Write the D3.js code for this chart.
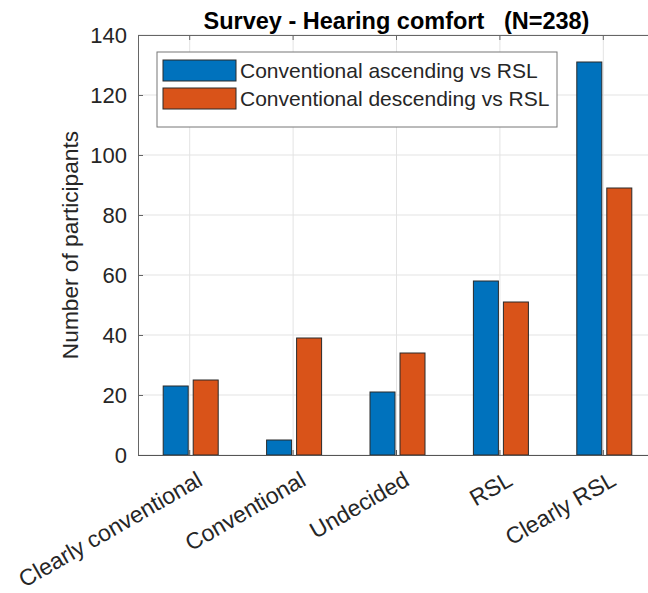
<!doctype html>
<html>
<head>
  <!-- adds d3 javascript to the page -->
  <script src="https://d3js.org/d3.v7.min.js" charset="utf-8"></script>
  <style>
    body { margin: 0; background: #fff; }
    text { font-family: Arial, "Liberation Sans", Helvetica, sans-serif; fill: #262626; }
  </style>
</head>
<body>
  <div id="viz"></div>
  <script>
  // data
  var categories = ["Clearly conventional", "Conventional", "Undecided", "RSL", "Clearly RSL"];
  var seriesNames = ["Conventional ascending vs RSL", "Conventional descending vs RSL"];
  var ascending = [23, 5, 21, 58, 131];
  var descending = [25, 39, 34, 51, 89];
  var yTicks = [0, 20, 40, 60, 80, 100, 120, 140];
  var colors = ["#0072BD", "#D95319"];

  // set the dimensions (the axes run past the right edge of the picture)
  var W = 648, H = 593;
  var pLeft = 138, pRight = 655, pTop = 35, pBottom = 455;

  var svg = d3.select("#viz")
    .append("svg")
    .attr("width", W)
    .attr("height", H);

  // scales
  var x = d3.scaleBand().domain(categories).range([pLeft, pRight]).padding(0);
  var xSub = d3.scaleBand().domain(seriesNames).range([-26.5, 28.5]).paddingInner(1 / 6);
  var y = d3.scaleLinear().domain([0, 140]).range([pBottom, pTop]);

  // grid lines
  svg.append("g")
    .selectAll("line")
    .data(yTicks)
    .enter()
    .append("line")
    .attr("x1", pLeft).attr("x2", pRight)
    .attr("y1", d => y(d)).attr("y2", d => y(d))
    .style("stroke", "#e3e3e3").style("stroke-width", 1);

  svg.append("g")
    .selectAll("line")
    .data(categories)
    .enter()
    .append("line")
    .attr("x1", d => x(d) + x.bandwidth() / 2).attr("x2", d => x(d) + x.bandwidth() / 2)
    .attr("y1", pTop).attr("y2", pBottom)
    .style("stroke", "#e3e3e3").style("stroke-width", 1);

  // bars, one group per category
  var rows = categories.map((c, i) => ({ cat: c, vals: [ascending[i], descending[i]] }));
  var groups = svg.append("g")
    .selectAll("g")
    .data(rows)
    .enter()
    .append("g")
    .attr("transform", d => "translate(" + (x(d.cat) + x.bandwidth() / 2) + ",0)");

  groups.selectAll("rect")
    .data(d => d.vals.map((v, j) => ({ name: seriesNames[j], v: v, j: j })))
    .enter()
    .append("rect")
    .attr("x", d => xSub(d.name))
    .attr("width", xSub.bandwidth())
    .attr("y", d => y(d.v))
    .attr("height", d => y(0) - y(d.v))
    .style("fill", d => colors[d.j])
    .style("stroke", "#2a2a2a")
    .style("stroke-width", 1);

  // left axis with inward ticks
  var yAxis = svg.append("g")
    .attr("transform", "translate(" + pLeft + ",0)")
    .call(d3.axisLeft(y).tickValues(yTicks).tickSizeInner(-5).tickSizeOuter(0).tickPadding(11));
  yAxis.select(".domain").style("stroke", "#666");
  yAxis.selectAll(".tick line").style("stroke", "#666");
  yAxis.selectAll("text").style("font-size", "22px").style("fill", "#262626")
    .style("font-family", "Arial, 'Liberation Sans', sans-serif");

  // bottom axis with inward ticks, labels drawn separately
  var xAxis = svg.append("g")
    .attr("transform", "translate(0," + pBottom + ")")
    .call(d3.axisBottom(x).tickSizeInner(-5).tickSizeOuter(0).tickFormat(""));
  xAxis.select(".domain").style("stroke", "#555");
  xAxis.selectAll(".tick line").style("stroke", "#555");

  // top border with inward ticks
  var xTop = svg.append("g")
    .attr("transform", "translate(0," + pTop + ")")
    .call(d3.axisTop(x).tickSizeInner(-5).tickSizeOuter(0).tickFormat(""));
  xTop.select(".domain").style("stroke", "#666");
  xTop.selectAll(".tick line").style("stroke", "#666");

  // rotated category labels
  svg.append("g")
    .selectAll("text")
    .data(categories)
    .enter()
    .append("text")
    .attr("transform", d => "translate(" + (x(d) + x.bandwidth() / 2 + 6) + "," + (pBottom + 15) + ") rotate(-30)")
    .attr("text-anchor", "end")
    .attr("dy", "0.72em")
    .style("font-size", "23px")
    .text(d => d);

  // y axis label
  svg.append("text")
    .attr("transform", "translate(78," + ((pTop + pBottom) / 2) + ") rotate(-90)")
    .attr("text-anchor", "middle")
    .style("font-size", "22.7px")
    .text("Number of participants");

  // title
  svg.append("text")
    .attr("x", (pLeft + pRight) / 2)
    .attr("y", 29)
    .attr("text-anchor", "middle")
    .style("font-size", "23.5px")
    .style("font-weight", "bold")
    .style("fill", "#000")
    .style("white-space", "pre")
    .text("Survey - Hearing comfort   (N=238)");

  // legend
  var legend = svg.append("g");
  legend.append("rect")
    .attr("x", 157).attr("y", 52)
    .attr("width", 400).attr("height", 75)
    .style("fill", "#fff").style("stroke", "#777").style("stroke-width", 1);

  var items = legend.selectAll("g")
    .data(seriesNames)
    .enter()
    .append("g")
    .attr("transform", (d, i) => "translate(163," + (60 + i * 28) + ")");

  items.append("rect")
    .attr("width", 73).attr("height", 21)
    .style("fill", (d, i) => colors[i])
    .style("stroke", "#2a2a2a").style("stroke-width", 1);

  items.append("text")
    .attr("x", 77).attr("y", 10.5)
    .attr("dy", "0.35em")
    .style("font-size", "21px")
    .text(d => d);
  </script>
</body>
</html>
